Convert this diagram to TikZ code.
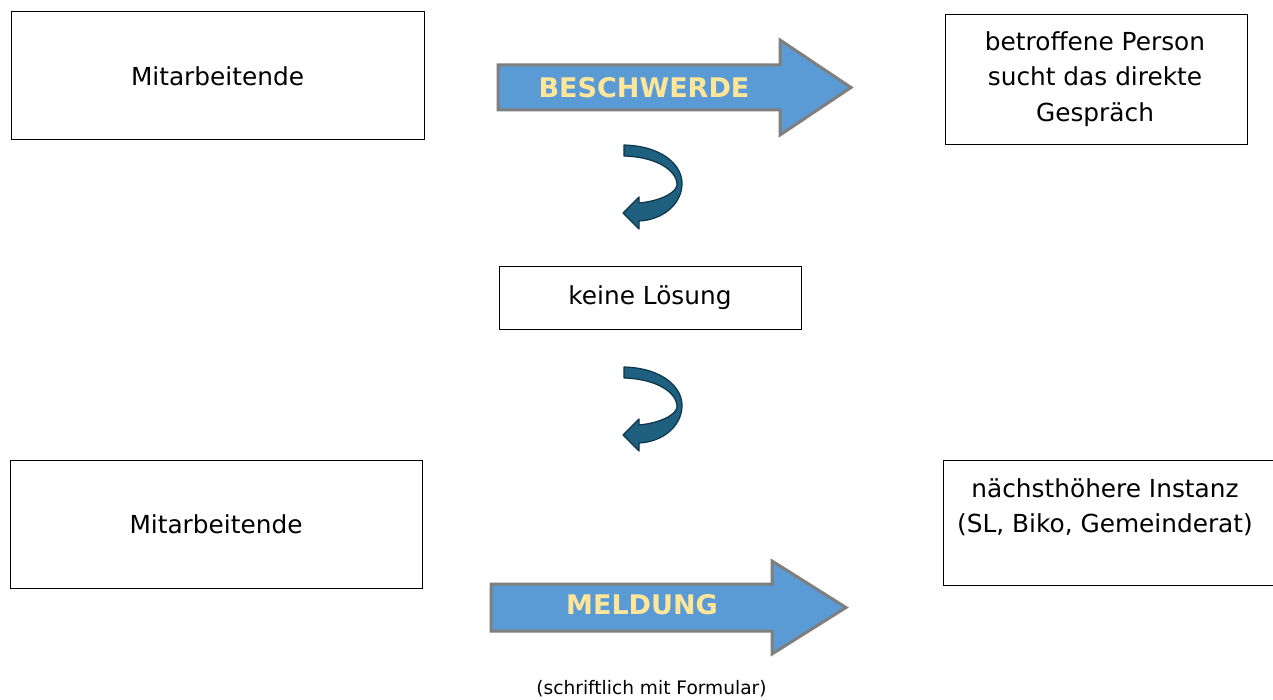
\documentclass[tikz,border=0pt]{standalone}
\usepackage{fontspec}
\setmainfont{DejaVu Sans}
\definecolor{arrowblue}{HTML}{5B9BD5}
\definecolor{arrowgray}{HTML}{7F7F7F}
\definecolor{labelyellow}{HTML}{FFE699}
\definecolor{curlfill}{HTML}{1F5F80}
\definecolor{curldraw}{HTML}{0E3448}
\tikzset{
  box/.style={draw=black, line width=1pt, fill=white, inner sep=0pt},
  boxtext/.style={font=\fontsize{24.8}{35.5}\selectfont, align=center, text=black},
  blockarrow/.style={draw=arrowgray, line width=3pt, fill=arrowblue, line join=miter},
  arrowlabel/.style={font=\fontsize{27}{30}\selectfont\bfseries, text=labelyellow},
  curl/.style={fill=curlfill, draw=curldraw, line width=1.2pt, line join=round},
  note/.style={font=\fontsize{18.6}{22}\selectfont, text=black}
}
\begin{document}
\begin{tikzpicture}[x=1pt, y=-1pt]
\useasboundingbox (0,0) rectangle (1273,700);
\fill[white] (0,0) rectangle (1273,700);
\begin{scope}
\clip (0,0) rectangle (1273,700);
% boxes
\node[box, minimum width=413pt, minimum height=128pt] (m1) at (217.5,76) {};
\node[boxtext] (m1t) at (m1.center) {Mitarbeitende};
\node[box, minimum width=302pt, minimum height=130pt] (p) at (1096,80) {};
\node[boxtext] (pt) at (1095,79) {betroffene Person\\sucht das direkte\\Gespräch};
\node[box, minimum width=302pt, minimum height=62pt] (k) at (650,298) {};
\node[boxtext] (kt) at (k.center) {keine Lösung};
\node[box, minimum width=412pt, minimum height=128pt] (m2) at (216,524) {};
\node[boxtext] (m2t) at (m2.center) {Mitarbeitende};
\node[box, minimum width=345pt, minimum height=125pt] (n) at (1115.5,522.5) {};
\node[boxtext, anchor=north] (nt) at (1105,475) {nächsthöhere Instanz\\(SL, Biko, Gemeinderat)};
\end{scope}
% block arrows
\draw[blockarrow] (498,65) -- (780,65) -- (780,40) -- (851,87.5) -- (780,135) -- (780,110) -- (498,110) -- cycle;
\node[arrowlabel] (b) at (644,87.5) {BESCHWERDE};
\draw[blockarrow] (491,584) -- (772,584) -- (772,561) -- (846,607.5) -- (772,654) -- (772,631) -- (491,631) -- cycle;
\node[arrowlabel] (ml) at (642,605) {MELDUNG};
\node[note] (s) at (651.5,689) {(schriftlich mit Formular)};
% curved arrows
\foreach \dy/\nm in {0/c1, 222/c2}{
  \begin{scope}[yshift=-\dy pt]
  \draw[curl] (624,145) .. controls (662,146) and (683,165) .. (682,185)
     .. controls (681,205) and (662,220) .. (639,221)
     -- (639,229) -- (623,213) -- (639,197) -- (639,203)
     .. controls (660,201) and (676,193) .. (677,185)
     .. controls (677,170) and (656,157) .. (624,156) -- cycle;
  \coordinate (\nm) at (650,185);
  \end{scope}
}
\end{tikzpicture}
\end{document}
